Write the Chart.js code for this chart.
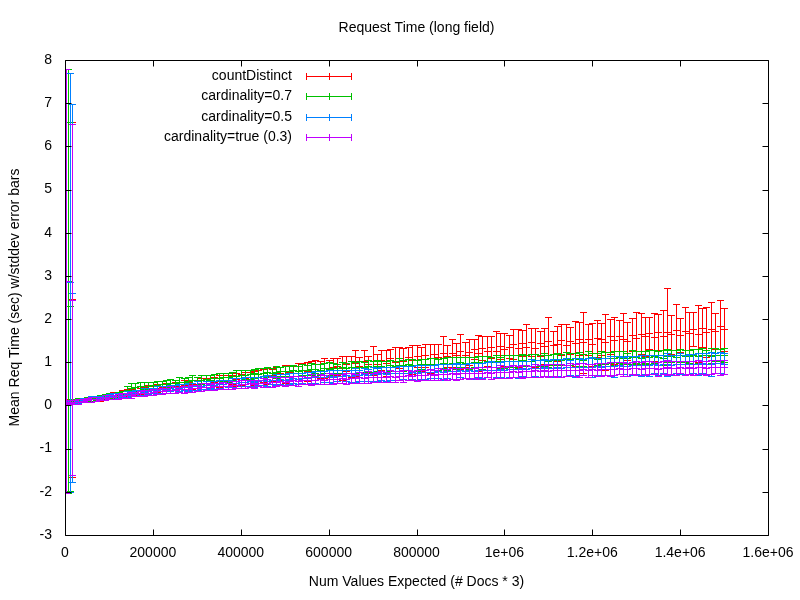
<!DOCTYPE html>
<html>
<head>
<meta charset="utf-8">
<title>Request Time (long field)</title>
<script src="https://cdn.jsdelivr.net/npm/chart.js@4.4.1/dist/chart.umd.min.js"></script>
<style>
  html, body { margin: 0; padding: 0; background: #fff; }
  canvas { display: block; }
</style>
</head>
<body>
<canvas id="chart" width="800" height="600"></canvas>
<script>
// x: number of values expected (# docs * 3)
const docsExpected = [
  2300, 6800, 11400, 16000,
  20000, 30000, 40000, 50000, 60000, 70000, 80000, 90000, 100000, 110000,
  120000, 130000, 140000, 150000, 160000, 170000, 180000, 190000, 200000, 210000,
  220000, 230000, 240000, 250000, 260000, 270000, 280000, 290000, 300000, 310000,
  320000, 330000, 340000, 350000, 360000, 370000, 380000, 390000, 400000, 410000,
  420000, 430000, 440000, 450000, 460000, 470000, 480000, 490000, 500000, 510000,
  520000, 530000, 540000, 550000, 560000, 570000, 580000, 590000, 600000, 610000,
  620000, 630000, 640000, 650000, 660000, 670000, 680000, 690000, 700000, 710000,
  720000, 730000, 740000, 750000, 760000, 770000, 780000, 790000, 800000, 810000,
  820000, 830000, 840000, 850000, 860000, 870000, 880000, 890000, 900000, 910000,
  920000, 930000, 940000, 950000, 960000, 970000, 980000, 990000, 1000000, 1010000,
  1020000, 1030000, 1040000, 1050000, 1060000, 1070000, 1080000, 1090000, 1100000, 1110000,
  1120000, 1130000, 1140000, 1150000, 1160000, 1170000, 1180000, 1190000, 1200000, 1210000,
  1220000, 1230000, 1240000, 1250000, 1260000, 1270000, 1280000, 1290000, 1300000, 1310000,
  1320000, 1330000, 1340000, 1350000, 1360000, 1370000, 1380000, 1390000, 1400000, 1410000,
  1420000, 1430000, 1440000, 1450000, 1460000, 1470000, 1480000, 1490000, 1500000
];

// mean request time (sec) and stddev per series
const countDistinctMean = [
  0.08, 0.09, 0.09, 2.46,
  0.10, 0.11, 0.13, 0.14, 0.16, 0.17, 0.18, 0.21, 0.22, 0.24,
  0.25, 0.28, 0.29, 0.31, 0.33, 0.34, 0.35, 0.37, 0.39, 0.40,
  0.42, 0.41, 0.44, 0.45, 0.46, 0.47, 0.46, 0.49, 0.50, 0.51,
  0.53, 0.52, 0.55, 0.56, 0.58, 0.57, 0.60, 0.61, 0.60, 0.63,
  0.65, 0.64, 0.67, 0.69, 0.68, 0.71, 0.72, 0.74, 0.73, 0.77,
  0.76, 0.80, 0.81, 0.79, 0.84, 0.85, 0.83, 0.87, 0.86, 0.90,
  0.91, 0.86, 0.97, 0.90, 0.99, 0.92, 1.02, 0.95, 1.04, 0.97,
  1.05, 0.98, 1.09, 1.01, 1.11, 1.04, 1.13, 1.06, 1.15, 1.08,
  1.16, 1.09, 1.19, 1.12, 1.22, 1.14, 1.21, 1.17, 1.25, 1.18,
  1.24, 1.31, 1.22, 1.33, 1.26, 1.36, 1.27, 1.38, 1.30, 1.36,
  1.42, 1.33, 1.45, 1.36, 1.47, 1.34, 1.44, 1.38, 1.49, 1.40,
  1.43, 1.52, 1.41, 1.50, 1.44, 1.55, 1.46, 1.53, 1.42, 1.56,
  1.53, 1.47, 1.60, 1.51, 1.62, 1.55, 1.50, 1.64, 1.57, 1.66,
  1.60, 1.68, 1.58, 1.70, 1.62, 1.70, 1.65, 1.74, 1.63, 1.72,
  1.68, 1.77, 1.66, 1.80, 1.70, 1.78, 1.73, 1.84, 1.76
];
const countDistinctStd = [
  0.04, 0.04, 0.05, 4.11,
  0.04, 0.05, 0.04, 0.06, 0.05, 0.05, 0.07, 0.06, 0.05, 0.07,
  0.06, 0.07, 0.08, 0.06, 0.09, 0.07, 0.08, 0.10, 0.07, 0.09,
  0.08, 0.11, 0.09, 0.10, 0.08, 0.12, 0.09, 0.11, 0.10, 0.13,
  0.10, 0.12, 0.11, 0.14, 0.12, 0.13, 0.11, 0.15, 0.13, 0.14,
  0.13, 0.16, 0.14, 0.15, 0.18, 0.14, 0.17, 0.16, 0.20, 0.17,
  0.16, 0.19, 0.17, 0.22, 0.18, 0.20, 0.19, 0.23, 0.20, 0.21,
  0.20, 0.28, 0.18, 0.25, 0.30, 0.21, 0.27, 0.19, 0.33, 0.22,
  0.23, 0.30, 0.21, 0.35, 0.24, 0.29, 0.22, 0.33, 0.25, 0.28,
  0.27, 0.34, 0.24, 0.30, 0.38, 0.26, 0.33, 0.28, 0.40, 0.29,
  0.31, 0.24, 0.42, 0.28, 0.35, 0.26, 0.45, 0.30, 0.38, 0.27,
  0.35, 0.44, 0.30, 0.52, 0.33, 0.46, 0.29, 0.41, 0.55, 0.32,
  0.40, 0.36, 0.48, 0.31, 0.52, 0.38, 0.70, 0.35, 0.50, 0.43,
  0.37, 0.65, 0.40, 0.54, 0.36, 0.58, 0.44, 0.39, 0.60, 0.47,
  0.46, 0.38, 0.56, 0.42, 0.60, 1.02, 0.45, 0.62, 0.40, 0.55,
  0.48, 0.40, 0.66, 0.45, 0.58, 0.62, 0.42, 0.60, 0.50
];

const card07Mean = [
  0.08, 2.89, 2.30, 0.10,
  0.10, 0.12, 0.14, 0.15, 0.17, 0.18, 0.19, 0.21, 0.22, 0.24,
  0.25, 0.27, 0.36, 0.41, 0.43, 0.44, 0.46, 0.45, 0.47, 0.48,
  0.49, 0.50, 0.52, 0.51, 0.54, 0.55, 0.56, 0.58, 0.57, 0.60,
  0.61, 0.60, 0.63, 0.64, 0.66, 0.65, 0.68, 0.69, 0.70, 0.71,
  0.72, 0.74, 0.73, 0.75, 0.77, 0.76, 0.78, 0.79, 0.80, 0.79,
  0.81, 0.80, 0.83, 0.82, 0.84, 0.85, 0.83, 0.86, 0.85, 0.87,
  0.86, 0.88, 0.87, 0.89, 0.88, 0.90, 0.89, 0.91, 0.90, 0.92,
  0.91, 0.90, 0.93, 0.92, 0.94, 0.93, 0.95, 0.94, 0.93, 0.96,
  0.95, 0.97, 0.96, 0.95, 0.98, 0.97, 0.99, 0.98, 1.00, 0.99,
  0.98, 1.00, 1.01, 0.99, 1.02, 1.01, 1.03, 1.00, 1.02, 1.04,
  1.03, 1.02, 1.05, 1.04, 1.03, 1.06, 1.05, 1.07, 1.04, 1.06,
  1.07, 1.06, 1.08, 1.07, 1.09, 1.08, 1.06, 1.10, 1.09, 1.08,
  1.10, 1.09, 1.11, 1.10, 1.12, 1.11, 1.09, 1.13, 1.12, 1.11,
  1.13, 1.12, 1.14, 1.13, 1.11, 1.15, 1.14, 1.13, 1.16, 1.15,
  1.14, 1.16, 1.15, 1.17, 1.16, 1.15, 1.18, 1.17, 1.16
];
const card07Std = [
  0.04, 4.91, 4.27, 0.05,
  0.04, 0.05, 0.04, 0.05, 0.06, 0.05, 0.06, 0.05, 0.07, 0.06,
  0.06, 0.07, 0.10, 0.12, 0.10, 0.11, 0.09, 0.10, 0.08, 0.09,
  0.08, 0.09, 0.10, 0.08, 0.11, 0.09, 0.10, 0.12, 0.09, 0.10,
  0.09, 0.11, 0.10, 0.12, 0.09, 0.11, 0.10, 0.13, 0.11, 0.10,
  0.11, 0.10, 0.13, 0.11, 0.12, 0.10, 0.14, 0.11, 0.12, 0.13,
  0.12, 0.11, 0.13, 0.12, 0.14, 0.11, 0.13, 0.12, 0.15, 0.12,
  0.11, 0.13, 0.12, 0.14, 0.12, 0.13, 0.11, 0.14, 0.12, 0.13,
  0.12, 0.14, 0.13, 0.12, 0.15, 0.13, 0.12, 0.14, 0.13, 0.12,
  0.13, 0.12, 0.14, 0.13, 0.12, 0.15, 0.13, 0.14, 0.12, 0.13,
  0.14, 0.12, 0.13, 0.15, 0.13, 0.12, 0.14, 0.13, 0.15, 0.14,
  0.13, 0.15, 0.14, 0.12, 0.16, 0.14, 0.13, 0.15, 0.14, 0.13,
  0.14, 0.13, 0.15, 0.14, 0.13, 0.16, 0.14, 0.15, 0.13, 0.14,
  0.15, 0.14, 0.13, 0.16, 0.14, 0.15, 0.13, 0.16, 0.14, 0.15,
  0.14, 0.16, 0.15, 0.13, 0.17, 0.15, 0.14, 0.16, 0.15, 0.14,
  0.15, 0.14, 0.16, 0.15, 0.13, 0.17, 0.15, 0.14, 0.16
];

const card05Mean = [
  0.07, 0.08, 2.85, 2.60,
  0.09, 0.10, 0.12, 0.13, 0.15, 0.16, 0.18, 0.19, 0.21, 0.22,
  0.23, 0.25, 0.26, 0.28, 0.29, 0.30, 0.32, 0.33, 0.35, 0.36,
  0.37, 0.38, 0.40, 0.39, 0.41, 0.43, 0.42, 0.44, 0.46, 0.45,
  0.47, 0.48, 0.47, 0.50, 0.49, 0.51, 0.53, 0.52, 0.54, 0.55,
  0.56, 0.55, 0.57, 0.58, 0.57, 0.59, 0.60, 0.61, 0.60, 0.62,
  0.63, 0.62, 0.64, 0.63, 0.65, 0.66, 0.65, 0.67, 0.68, 0.67,
  0.69, 0.68, 0.70, 0.69, 0.71, 0.70, 0.72, 0.71, 0.73, 0.72,
  0.74, 0.73, 0.75, 0.74, 0.75, 0.76, 0.75, 0.77, 0.76, 0.78,
  0.77, 0.78, 0.77, 0.79, 0.78, 0.80, 0.79, 0.80, 0.81, 0.80,
  0.81, 0.80, 0.82, 0.81, 0.83, 0.82, 0.83, 0.84, 0.83, 0.84,
  0.85, 0.84, 0.86, 0.85, 0.86, 0.87, 0.86, 0.88, 0.87, 0.86,
  0.88, 0.87, 0.89, 0.88, 0.89, 0.90, 0.89, 0.88, 0.90, 0.91,
  0.90, 0.91, 0.92, 0.91, 0.93, 0.92, 0.91, 0.93, 0.94, 0.93,
  0.94, 0.93, 0.95, 0.94, 0.96, 0.95, 0.94, 0.96, 0.97, 0.95,
  0.96, 0.97, 0.96, 0.98, 0.97, 0.96, 0.98, 0.99, 0.97
];
const card05Std = [
  0.04, 0.04, 4.85, 4.38,
  0.04, 0.05, 0.05, 0.04, 0.06, 0.05, 0.05, 0.06, 0.05, 0.06,
  0.06, 0.05, 0.07, 0.06, 0.07, 0.06, 0.08, 0.07, 0.06, 0.08,
  0.07, 0.08, 0.07, 0.09, 0.08, 0.07, 0.09, 0.08, 0.10, 0.08,
  0.09, 0.08, 0.10, 0.09, 0.11, 0.09, 0.10, 0.11, 0.09, 0.10,
  0.10, 0.12, 0.10, 0.11, 0.13, 0.10, 0.12, 0.11, 0.13, 0.12,
  0.12, 0.13, 0.11, 0.14, 0.12, 0.13, 0.15, 0.12, 0.13, 0.14,
  0.13, 0.15, 0.13, 0.14, 0.16, 0.13, 0.15, 0.14, 0.16, 0.15,
  0.14, 0.16, 0.15, 0.14, 0.17, 0.15, 0.16, 0.15, 0.17, 0.16,
  0.16, 0.15, 0.17, 0.16, 0.18, 0.16, 0.17, 0.19, 0.16, 0.17,
  0.17, 0.19, 0.16, 0.18, 0.17, 0.20, 0.18, 0.17, 0.19, 0.18,
  0.18, 0.20, 0.17, 0.19, 0.21, 0.18, 0.20, 0.19, 0.18, 0.21,
  0.19, 0.21, 0.20, 0.18, 0.22, 0.20, 0.19, 0.21, 0.23, 0.20,
  0.21, 0.20, 0.22, 0.24, 0.21, 0.20, 0.23, 0.22, 0.21, 0.24,
  0.22, 0.25, 0.21, 0.23, 0.22, 0.26, 0.24, 0.22, 0.25, 0.23,
  0.24, 0.22, 0.26, 0.23, 0.25, 0.27, 0.23, 0.24, 0.25
];

const card03Mean = [
  2.88, 0.08, 0.09, 2.45,
  0.08, 0.09, 0.11, 0.12, 0.14, 0.15, 0.16, 0.18, 0.19, 0.20,
  0.21, 0.23, 0.24, 0.25, 0.27, 0.28, 0.29, 0.30, 0.32, 0.33,
  0.34, 0.35, 0.36, 0.35, 0.37, 0.38, 0.39, 0.40, 0.41, 0.42,
  0.43, 0.42, 0.44, 0.45, 0.46, 0.45, 0.47, 0.48, 0.49, 0.50,
  0.51, 0.50, 0.52, 0.53, 0.52, 0.54, 0.55, 0.56, 0.55, 0.57,
  0.58, 0.57, 0.59, 0.58, 0.60, 0.59, 0.61, 0.60, 0.62, 0.61,
  0.62, 0.63, 0.62, 0.64, 0.63, 0.65, 0.64, 0.66, 0.65, 0.66,
  0.67, 0.66, 0.68, 0.67, 0.69, 0.68, 0.70, 0.69, 0.70, 0.71,
  0.70, 0.72, 0.71, 0.72, 0.73, 0.72, 0.74, 0.73, 0.74, 0.75,
  0.74, 0.75, 0.76, 0.75, 0.77, 0.76, 0.77, 0.78, 0.77, 0.78,
  0.79, 0.78, 0.79, 0.80, 0.79, 0.81, 0.80, 0.81, 0.80, 0.82,
  0.81, 0.82, 0.81, 0.83, 0.82, 0.83, 0.84, 0.82, 0.84, 0.83,
  0.84, 0.85, 0.84, 0.85, 0.86, 0.85, 0.84, 0.86, 0.87, 0.85,
  0.86, 0.87, 0.86, 0.85, 0.87, 0.88, 0.87, 0.86, 0.88, 0.87,
  0.88, 0.87, 0.89, 0.88, 0.87, 0.89, 0.90, 0.88, 0.89
];
const card03Std = [
  4.90, 0.04, 0.04, 4.07,
  0.04, 0.05, 0.04, 0.05, 0.06, 0.05, 0.04, 0.06, 0.05, 0.05,
  0.06, 0.05, 0.06, 0.07, 0.05, 0.06, 0.07, 0.06, 0.07, 0.06,
  0.07, 0.06, 0.08, 0.07, 0.06, 0.08, 0.07, 0.08, 0.07, 0.09,
  0.08, 0.07, 0.09, 0.08, 0.09, 0.08, 0.10, 0.08, 0.09, 0.10,
  0.09, 0.10, 0.08, 0.10, 0.09, 0.11, 0.10, 0.09, 0.11, 0.10,
  0.10, 0.11, 0.10, 0.09, 0.12, 0.10, 0.11, 0.10, 0.12, 0.11,
  0.11, 0.10, 0.12, 0.11, 0.10, 0.12, 0.11, 0.13, 0.11, 0.12,
  0.12, 0.11, 0.13, 0.12, 0.11, 0.13, 0.12, 0.11, 0.13, 0.12,
  0.12, 0.13, 0.12, 0.14, 0.12, 0.13, 0.12, 0.14, 0.13, 0.12,
  0.13, 0.12, 0.14, 0.13, 0.12, 0.14, 0.13, 0.15, 0.13, 0.14,
  0.14, 0.13, 0.15, 0.14, 0.13, 0.15, 0.14, 0.13, 0.15, 0.14,
  0.14, 0.15, 0.13, 0.15, 0.14, 0.16, 0.14, 0.15, 0.13, 0.15,
  0.15, 0.14, 0.16, 0.15, 0.14, 0.16, 0.15, 0.14, 0.16, 0.15,
  0.16, 0.15, 0.14, 0.16, 0.15, 0.17, 0.15, 0.16, 0.14, 0.16,
  0.15, 0.17, 0.16, 0.15, 0.17, 0.16, 0.15, 0.17, 0.16
];

const seriesNames = ['countDistinct', 'cardinality=0.7', 'cardinality=0.5', 'cardinality=true (0.3)'];
const seriesMeans = [countDistinctMean, card07Mean, card05Mean, card03Mean];
const seriesStds = [countDistinctStd, card07Std, card05Std, card03Std];
const seriesColors = ['#ff0000', '#00c000', '#0080ff', '#c000ff'];

const xTickLabels = ['0', '200000', '400000', '600000', '800000', '1e+06', '1.2e+06', '1.4e+06', '1.6e+06'];
const yTickLabels = ['-3', '-2', '-1', '0', '1', '2', '3', '4', '5', '6', '7', '8'];

const FONT = '14px "Liberation Sans", Arial, sans-serif';
const CAP = 3.5; // half width of error bar caps
const TICK = 6;  // inward tick length

// gnuplot-style error bars, border, mirrored ticks and key
const gnuplotLook = {
  id: 'gnuplotLook',
  beforeInit(chart) {
    chart.ctx.letterSpacing = '0.8px';
  },
  afterDatasetsDraw(chart) {
    const { ctx, chartArea: a, scales: { x, y } } = chart;
    const px = v => Math.round(x.getPixelForValue(v)) + 0.5;
    const py = v => Math.round(y.getPixelForValue(v)) + 0.5;

    ctx.save();
    ctx.beginPath();
    ctx.rect(a.left, a.top, a.right - a.left, a.bottom - a.top);
    ctx.clip();
    ctx.lineWidth = 1;
    chart.data.datasets.forEach(ds => {
      ctx.strokeStyle = ds.borderColor;
      ctx.beginPath();
      ds.data.forEach((p, i) => {
        const cx = px(p.x);
        const top = py(p.y + ds.errors[i]);
        const bot = py(p.y - ds.errors[i]);
        const mid = py(p.y);
        ctx.moveTo(cx, top); ctx.lineTo(cx, bot);
        ctx.moveTo(cx - CAP, top); ctx.lineTo(cx + CAP, top);
        ctx.moveTo(cx - CAP, bot); ctx.lineTo(cx + CAP, bot);
        ctx.moveTo(cx - CAP, mid); ctx.lineTo(cx + CAP, mid);
      });
      ctx.stroke();
    });
    ctx.restore();

    // border and ticks
    ctx.save();
    ctx.strokeStyle = '#000';
    ctx.lineWidth = 1;
    const L = a.left + 0.5, R = a.right + 0.5, T = a.top + 0.5, B = a.bottom + 0.5;
    ctx.beginPath();
    ctx.rect(L, T, R - L, B - T);
    y.ticks.forEach(t => {
      const yy = py(t.value);
      ctx.moveTo(L, yy); ctx.lineTo(L + TICK, yy);
      ctx.moveTo(R, yy); ctx.lineTo(R - TICK, yy);
    });
    x.ticks.forEach(t => {
      const xx = px(t.value);
      ctx.moveTo(xx, B); ctx.lineTo(xx, B - TICK);
      ctx.moveTo(xx, T); ctx.lineTo(xx, T + TICK);
    });
    ctx.stroke();
    ctx.restore();
  },
  afterDraw(chart) {
    const { ctx, chartArea: a } = chart;
    ctx.save();
    ctx.fillStyle = '#000';
    ctx.font = FONT;
    ctx.textBaseline = 'middle';
    const cx = (a.left + a.right) / 2;

    ctx.textAlign = 'center';
    ctx.fillText('Request Time (long field)', cx, 28);
    ctx.fillText('Num Values Expected (# Docs * 3)', cx, 582);

    ctx.save();
    ctx.translate(15, (a.top + a.bottom) / 2);
    ctx.rotate(-Math.PI / 2);
    ctx.fillText('Mean Req Time (sec) w/stddev error bars', 0, 0);
    ctx.restore();

    // key
    ctx.textAlign = 'right';
    chart.data.datasets.forEach((ds, i) => {
      const ky = Math.round(76 + i * 20.3) + 0.5;
      ctx.fillStyle = '#000';
      ctx.fillText(ds.label, 292, ky);
      ctx.strokeStyle = ds.borderColor;
      ctx.beginPath();
      ctx.moveTo(306, ky); ctx.lineTo(352, ky);
      [306.5, 329.5, 351.5].forEach(kx => {
        ctx.moveTo(kx, ky - 3.5); ctx.lineTo(kx, ky + 3.5);
      });
      ctx.stroke();
    });
    ctx.restore();
  }
};

const datasets = seriesNames.map((name, s) => ({
  label: name,
  data: docsExpected.map((v, i) => ({ x: v, y: seriesMeans[s][i] })),
  errors: seriesStds[s],
  borderColor: seriesColors[s],
  backgroundColor: seriesColors[s],
  pointRadius: 0,
  showLine: false
}));

new Chart(document.getElementById('chart').getContext('2d'), {
  type: 'scatter',
  data: { datasets },
  plugins: [gnuplotLook],
  options: {
    responsive: false,
    animation: false,
    events: [],
    layout: { padding: { left: 0, top: 60, right: 32, bottom: 0 } },
    plugins: { legend: { display: false }, tooltip: { enabled: false }, title: { display: false } },
    scales: {
      x: {
        type: 'linear',
        min: 0,
        max: 1600000,
        grid: { display: false, drawTicks: false },
        border: { display: false },
        ticks: {
          stepSize: 200000,
          autoSkip: false,
          maxRotation: 0,
          padding: 10,
          color: '#000',
          font: { family: '"Liberation Sans", Arial, sans-serif', size: 14 },
          callback: (v, i) => xTickLabels[i]
        },
        afterFit: s => { s.height = 65; s.paddingRight = 0; s.paddingLeft = 0; }
      },
      y: {
        min: -3,
        max: 8,
        grid: { display: false, drawTicks: false },
        border: { display: false },
        ticks: {
          stepSize: 1,
          padding: 13,
          color: '#000',
          font: { family: '"Liberation Sans", Arial, sans-serif', size: 14 },
          callback: (v, i) => yTickLabels[i]
        },
        afterFit: s => { s.width = 65; }
      }
    }
  }
});
</script>
</body>
</html>
